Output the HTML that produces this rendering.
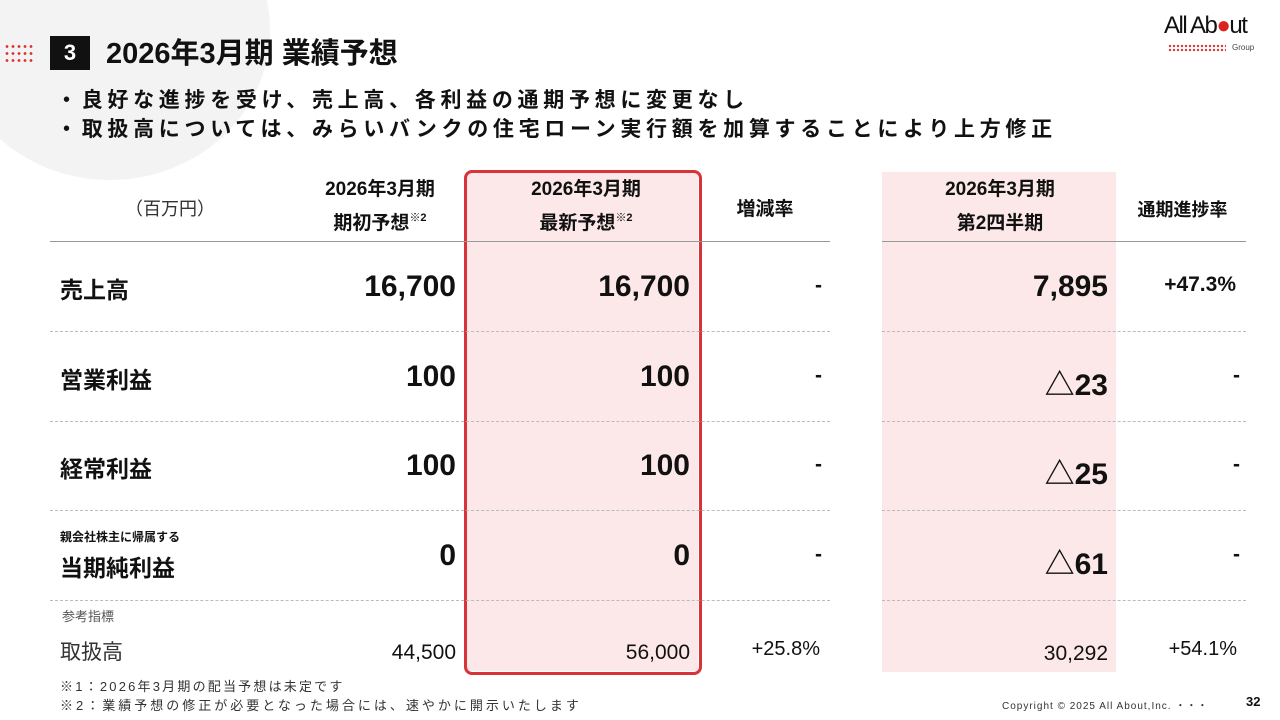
<!DOCTYPE html>
<html><head><meta charset="utf-8"><style>
body{margin:0;width:1280px;height:720px;background:#fff;position:relative;overflow:hidden;font-family:"Liberation Sans","Noto Sans CJK JP",sans-serif;color:#111}
.a{position:absolute;white-space:nowrap}
.r{text-align:right}
.c{text-align:center}
.b{font-weight:bold}
.hl{position:absolute;height:0;border-top:1px dashed #bbb}
sup{font-size:11px;line-height:0;vertical-align:8px}
</style></head><body>
<div class="a" style="left:-50px;top:-120px;width:320px;height:300px;border-radius:50%;background:#f3f3f3"></div>
<div class="a" style="left:4px;top:43px;width:30px;height:20px;background-image:radial-gradient(circle,#d33 1.2px,transparent 1.6px);background-size:6px 7px"></div>
<div class="a" style="left:50px;top:36px;width:40px;height:34px;background:#111;color:#fff;font-weight:bold;font-size:22px;line-height:34px;text-align:center">3</div>
<div class="a b" style="left:106px;top:30px;font-size:29px">2026年3月期 業績予想</div>
<div class="a" style="left:1164px;top:12px;font-size:24px;letter-spacing:-1.5px">All Ab<span style="color:#d22">●</span>ut</div>
<div class="a" style="left:1168px;top:44px;width:58px;height:8px;background-image:radial-gradient(circle,#d33 1px,transparent 1.4px);background-size:4px 4px"></div>
<div class="a" style="left:1232px;top:43px;font-size:8px;color:#444">Group</div>
<div class="a b" style="left:56px;top:84px;font-size:21px;letter-spacing:4.7px">・良好な進捗を受け、売上高、各利益の通期予想に変更なし</div>
<div class="a b" style="left:56px;top:113px;font-size:21px;letter-spacing:4.7px">・取扱高については、みらいバンクの住宅ローン実行額を加算することにより上方修正</div>

<div class="a" style="left:466px;top:172px;width:232px;height:499px;background:#fce8e8"></div>
<div class="a" style="left:882px;top:172px;width:234px;height:500px;background:#fce8e8"></div>
<div class="a" style="left:464px;top:170px;width:232px;height:499px;border:3px solid #d9333a;border-radius:8px"></div>

<div class="a" style="left:50px;top:241px;width:780px;border-top:1px solid #999"></div>
<div class="a" style="left:882px;top:241px;width:364px;border-top:1px solid #999"></div>
<div class="hl" style="left:50px;top:331px;width:780px"></div><div class="hl" style="left:882px;top:331px;width:364px"></div>
<div class="hl" style="left:50px;top:421px;width:780px"></div><div class="hl" style="left:882px;top:421px;width:364px"></div>
<div class="hl" style="left:50px;top:510px;width:780px"></div><div class="hl" style="left:882px;top:510px;width:364px"></div>
<div class="hl" style="left:50px;top:600px;width:780px"></div><div class="hl" style="left:882px;top:600px;width:364px"></div>

<div class="a c" style="left:100px;top:195px;width:140px;font-size:18px;color:#333">（百万円）</div>
<div class="a c b" style="left:300px;top:173px;width:160px;font-size:19px;line-height:34px">2026年3月期<br>期初予想<sup>※2</sup></div>
<div class="a c b" style="left:506px;top:173px;width:160px;font-size:19px;line-height:34px">2026年3月期<br>最新予想<sup>※2</sup></div>
<div class="a c b" style="left:710px;top:194px;width:110px;font-size:19px">増減率</div>
<div class="a c b" style="left:920px;top:173px;width:160px;font-size:19px;line-height:34px">2026年3月期<br>第2四半期</div>
<div class="a c b" style="left:1120px;top:196px;width:125px;font-size:18px">通期進捗率</div>

<div class="a b" style="left:60px;top:271px;font-size:23px">売上高</div>
<div class="a b" style="left:60px;top:361px;font-size:23px">営業利益</div>
<div class="a b" style="left:60px;top:450px;font-size:23px">経常利益</div>
<div class="a b" style="left:60px;top:528px;font-size:12px">親会社株主に帰属する</div>
<div class="a b" style="left:60px;top:549px;font-size:23px">当期純利益</div>
<div class="a" style="left:62px;top:606px;font-size:13px;color:#555">参考指標</div>
<div class="a" style="left:60px;top:636px;font-size:21px;color:#333">取扱高</div>

<div class="a r b" style="left:256px;top:270px;width:200px;font-size:30px">16,700</div>
<div class="a r b" style="left:256px;top:360px;width:200px;font-size:30px">100</div>
<div class="a r b" style="left:256px;top:449px;width:200px;font-size:30px">100</div>
<div class="a r b" style="left:256px;top:539px;width:200px;font-size:30px">0</div>
<div class="a r" style="left:256px;top:641px;width:200px;font-size:21px">44,500</div>

<div class="a r b" style="left:490px;top:270px;width:200px;font-size:30px">16,700</div>
<div class="a r b" style="left:490px;top:360px;width:200px;font-size:30px">100</div>
<div class="a r b" style="left:490px;top:449px;width:200px;font-size:30px">100</div>
<div class="a r b" style="left:490px;top:539px;width:200px;font-size:30px">0</div>
<div class="a r" style="left:490px;top:641px;width:200px;font-size:21px">56,000</div>

<div class="a r b" style="left:720px;top:274px;width:102px;font-size:21px">-</div>
<div class="a r b" style="left:720px;top:364px;width:102px;font-size:21px">-</div>
<div class="a r b" style="left:720px;top:453px;width:102px;font-size:21px">-</div>
<div class="a r b" style="left:720px;top:543px;width:102px;font-size:21px">-</div>
<div class="a r" style="left:700px;top:638px;width:120px;font-size:20px">+25.8%</div>

<div class="a r b" style="left:906px;top:270px;width:202px;font-size:30px">7,895</div>
<div class="a r b" style="left:906px;top:360px;width:202px;font-size:30px">△23</div>
<div class="a r b" style="left:906px;top:449px;width:202px;font-size:30px">△25</div>
<div class="a r b" style="left:906px;top:539px;width:202px;font-size:30px">△61</div>
<div class="a r" style="left:906px;top:642px;width:202px;font-size:21px">30,292</div>

<div class="a r b" style="left:1120px;top:273px;width:116px;font-size:21px">+47.3%</div>
<div class="a r b" style="left:1120px;top:364px;width:120px;font-size:21px">-</div>
<div class="a r b" style="left:1120px;top:453px;width:120px;font-size:21px">-</div>
<div class="a r b" style="left:1120px;top:543px;width:120px;font-size:21px">-</div>
<div class="a r" style="left:1120px;top:638px;width:117px;font-size:20px">+54.1%</div>

<div class="a" style="left:60px;top:676px;font-size:13px;color:#333;letter-spacing:2.2px">※1：2026年3月期の配当予想は未定です</div>
<div class="a" style="left:60px;top:695px;font-size:13px;color:#333;letter-spacing:3px">※2：業績予想の修正が必要となった場合には、速やかに開示いたします</div>
<div class="a" style="left:1002px;top:697px;font-size:10px;color:#333;letter-spacing:1px">Copyright © 2025 All About,Inc. ・・・</div>
<div class="a b" style="left:1246px;top:694px;font-size:13px">32</div>
</body></html>
